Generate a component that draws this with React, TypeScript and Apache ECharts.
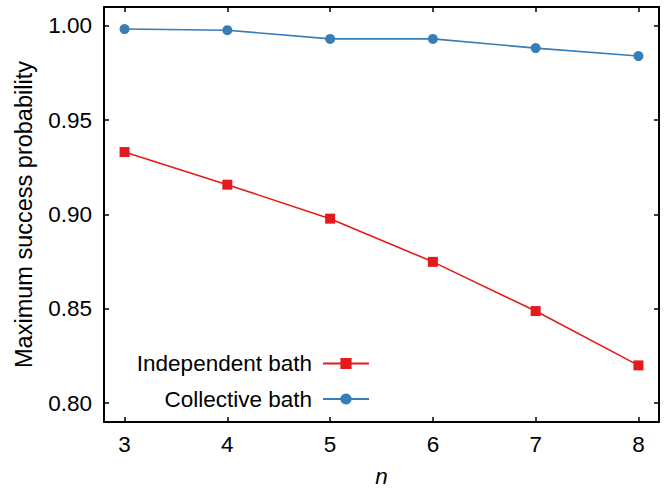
import React, { useEffect, useRef } from "react";
import * as echarts from "echarts";

const nValues = [3, 4, 5, 6, 7, 8];
const independentBath = [0.9331, 0.9158, 0.8978, 0.8749, 0.8488, 0.82];
const collectiveBath = [0.9983, 0.9977, 0.9931, 0.9931, 0.9882, 0.984];
const seriesNames = ["Independent bath", "Collective bath"];
const xTicks = [3, 4, 5, 6, 7, 8];
const yTicks = [0.8, 0.85, 0.9, 0.95, 1.0];

const FONT = "Liberation Sans, Arial, Helvetica, sans-serif";
const FS = 22.5;

export default function App() {
  const ref = useRef<HTMLDivElement>(null);
  useEffect(() => {
    document.body.style.margin = "0";
    if (!ref.current) return;
    const chart = echarts.init(ref.current, undefined, { renderer: "svg" });
    const axisLine = { show: true, lineStyle: { color: "#000", width: 2 } };
    const xTick = { show: true, inside: true, length: 5, customValues: xTicks, lineStyle: { color: "#000", width: 1.5 } };
    const yTick = { show: true, inside: true, length: 5, customValues: yTicks, lineStyle: { color: "#000", width: 1.5 } };
    const xCommon = { type: "value", min: 2.8, max: 8.2, splitLine: { show: false }, axisLine, axisTick: xTick };
    const yCommon = { type: "value", min: 0.79, max: 1.01, splitLine: { show: false }, axisLine, axisTick: yTick };
    chart.setOption({
      animation: false,
      backgroundColor: "#fff",
      textStyle: { fontFamily: FONT },
      grid: { left: 104, right: 10, top: 7, bottom: 69, containLabel: false },
      legend: {
        orient: "vertical",
        align: "right",
        right: 299,
        top: 352,
        padding: 0,
        itemGap: 12.5,
        itemWidth: 46,
        itemHeight: 14,
        textStyle: { fontFamily: FONT, fontSize: FS, lineHeight: 22, color: "#000", padding: [0, 6, 0, 0] },
        data: seriesNames,
      },
      xAxis: [
        {
          ...xCommon,
          position: "bottom",
          name: "n",
          nameLocation: "middle",
          nameGap: 43,
          nameTextStyle: { fontFamily: FONT, fontSize: FS, fontStyle: "italic", color: "#000" },
          axisLabel: { show: true, customValues: xTicks, margin: 11, fontSize: FS, color: "#000", fontFamily: FONT },
        },
        { ...xCommon, position: "top", axisLabel: { show: false } },
      ],
      yAxis: [
        {
          ...yCommon,
          position: "left",
          name: "Maximum success probability",
          nameLocation: "middle",
          nameGap: 68,
          nameTextStyle: { fontFamily: FONT, fontSize: 23.5, color: "#000" },
          axisLabel: {
            show: true,
            customValues: yTicks,
            margin: 12,
            fontSize: FS,
            color: "#000",
            fontFamily: FONT,
            formatter: (v: number) => v.toFixed(2),
          },
        },
        { ...yCommon, position: "right", axisLabel: { show: false } },
      ],
      series: [
        {
          name: seriesNames[0],
          type: "line",
          data: nValues.map((x, i) => [x, independentBath[i]]),
          symbol: "rect",
          symbolSize: 10,
          color: "#e41a1c",
          lineStyle: { width: 1.6, color: "#e41a1c" },
          itemStyle: { color: "#e41a1c" },
        },
        {
          name: seriesNames[1],
          type: "line",
          data: nValues.map((x, i) => [x, collectiveBath[i]]),
          symbol: "circle",
          symbolSize: 10,
          color: "#377eb8",
          lineStyle: { width: 1.6, color: "#377eb8" },
          itemStyle: { color: "#377eb8" },
        },
      ],
    });
    return () => chart.dispose();
  }, []);
  return <div ref={ref} style={{ width: 669, height: 493 }} />;
}
